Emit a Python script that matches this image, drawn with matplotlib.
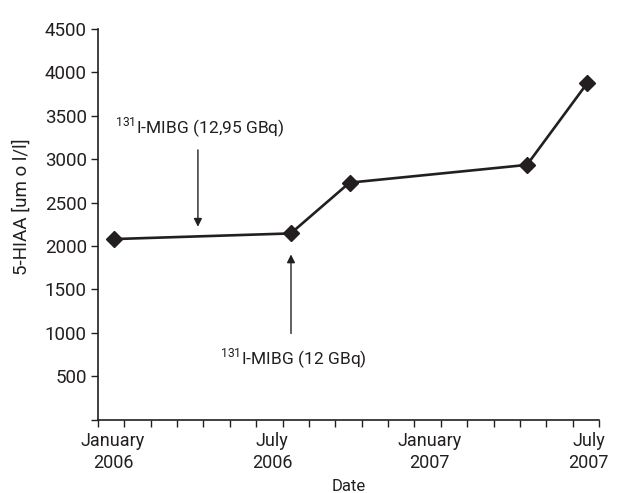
import matplotlib
matplotlib.use('Agg')
import matplotlib.pyplot as plt
import numpy as np

plt.rcParams['font.family'] = ['Roboto', 'DejaVu Sans']
plt.rcParams['mathtext.fontset'] = 'custom'
plt.rcParams['mathtext.rm'] = 'Roboto'

# months since Dec 2005 (axis starts at 0)
months = [0.61, 7.31, 9.54, 16.27, 18.55]
hiaa = [2080, 2145, 2730, 2935, 3875]

month_labels = ['January\n2006', 'July\n2006', 'January\n2007', 'July\n2007']
label_pos = [0.57, 6.6, 12.56, 18.6]
yticks = [0, 500, 1000, 1500, 2000, 2500, 3000, 3500, 4000, 4500]
ytick_labels = [''] + [str(v) for v in yticks[1:]]

ink = '#231f20'

fig = plt.figure(figsize=(6.17, 4.93), dpi=100)
ax = fig.add_axes([0.1588, 0.149, 0.812, 0.792])

ax.plot(months, hiaa, color=ink, linewidth=1.9, marker='D', markersize=8, zorder=3)

ax.set_xlim(0, 19)
ax.set_ylim(0, 4500)
ax.set_yticks(yticks)
ax.set_yticklabels(ytick_labels)
ax.set_xticks(label_pos)
ax.set_xticklabels(month_labels)
ax.set_xticks(np.arange(0, 20), minor=True)
ax.tick_params(axis='x', which='major', length=0, pad=9, labelsize=13, colors=ink)
ax.tick_params(axis='x', which='minor', length=5, width=1, direction='out', color=ink)
ax.tick_params(axis='y', length=5, width=1, direction='out', labelsize=13.5, colors=ink, pad=3)
for lbl in ax.get_xticklabels():
    lbl.set_linespacing(1.25)

for s in ['top', 'right']:
    ax.spines[s].set_visible(False)
for s in ['left', 'bottom']:
    ax.spines[s].set_color(ink)
    ax.spines[s].set_linewidth(1.2)

ax.set_xlabel('Date', fontsize=12, color=ink)
ax.xaxis.set_label_coords(0.5, -0.152)
ax.set_ylabel('5-HIAA [um o l/l]', fontsize=13.5, color=ink)
ax.yaxis.set_label_coords(-0.134, 0.546)

# treatment arrows
ax.annotate('', xy=(3.79, 2190), xytext=(3.79, 3140),
            arrowprops=dict(arrowstyle='-|>', color=ink, lw=1, mutation_scale=12))
ax.text(3.85, 3360, r'$^{\mathregular{131}}$I-MIBG (12,95 GBq)', fontsize=12.5,
        ha='center', va='center', color=ink)
ax.annotate('', xy=(7.32, 1935), xytext=(7.32, 960),
            arrowprops=dict(arrowstyle='-|>', color=ink, lw=1, mutation_scale=12))
ax.text(7.4, 705, r'$^{\mathregular{131}}$I-MIBG (12 GBq)', fontsize=12.5,
        ha='center', va='center', color=ink)

fig.savefig('out.png', dpi=100)
